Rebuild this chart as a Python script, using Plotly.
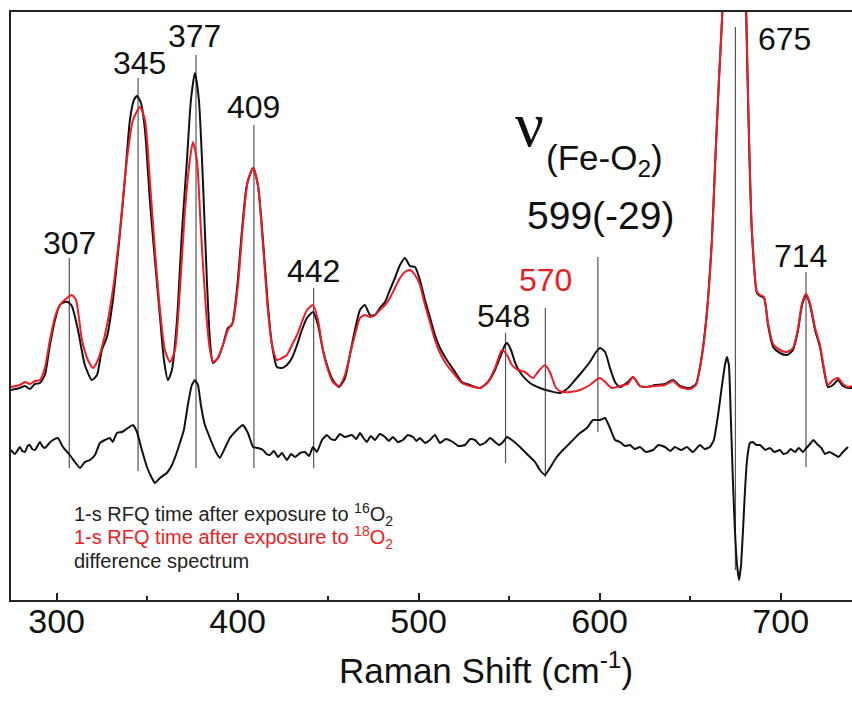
import plotly.graph_objects as go

# Raman shift (cm-1) / intensity (arb. units)
o16_x = [274.7,279.7,282.5,285.2,288.0,290.8,293.5,296.3,299.1,301.8,304.6,306.2,308.4,311.8,315.6,319.5,322.3,325.0,327.8,331.1,335.0,337.7,340.5,342.7,344.4,346.6,348.8,351.5,354.3,357.1,359.3,361.5,363.7,366.5,369.2,372.0,374.2,376.4,378.6,380.8,383.0,384.7,386.4,389.1,391.9,394.6,396.8,399.6,402.4,405.1,408.5,411.2,414.0,416.7,419.0,421.7,424.5,427.2,430.0,432.8,435.5,438.3,441.6,444.4,447.1,449.9,452.6,456.0,459.3,462.0,464.8,467.6,470.3,473.1,475.9,478.6,481.4,484.1,486.9,489.7,492.4,495.2,498.0,500.7,503.5,506.2,509.0,511.8,515.6,520.1,523.9,528.3,533.9,538.3,542.2,545.5,547.7,548.8,551.0,553.8,557.1,561.5,567.0,572.5,578.1,582.5,586.4,590.2,594.6,598.0,600.2,603.0,605.7,608.5,611.2,615.6,618.4,622.3,626.1,630.6,636.1,640.5,644.4,649.9,653.2,655.4,657.6,659.8,662.0,663.7,665.9,668.1,670.3,672.5,675.0,677.5,679.5,681.0,682.5,684.1,686.9,688.6,690.8,693.0,695.8,699.6,703.5,706.8,709.6,711.8,714.0,716.2,719.0,721.7,723.9,726.1,728.9,731.7,734.4,737.2,739.4]
o16_y = [210,212,214,211,216,217,225,255,280,295,298,298,294,270,235,220,225,250,263,300,367,420,480,500,504,497,470,400,340,283,240,220,230,280,367,440,500,527,500,420,320,260,237,242,255,272,275,310,370,415,432,415,360,295,255,233,232,235,242,255,270,282,288,275,250,232,220,213,222,245,270,290,295,285,285,292,298,310,322,335,342,334,333,320,300,283,265,252,240,228,218,215,212,218,230,245,255,257,250,235,225,217,212,209,207,212,220,228,238,248,252,248,232,218,213,218,223,214,213,215,216,220,214,212,216,233,260,300,360,433,520,600,720,880,980,880,720,580,460,367,307,304,302,275,253,247,245,250,270,295,305,295,270,253,230,213,215,220,214,212,212]

o18_x = [274.7,279.7,282.5,285.2,288.0,290.8,293.5,296.3,299.1,301.8,305.7,308.4,310.7,314.0,317.3,320.1,322.8,326.7,331.1,335.0,338.8,342.2,346.0,348.8,351.5,354.3,357.1,359.8,362.6,365.4,368.1,370.9,373.6,375.3,377.5,379.7,382.5,384.7,386.4,389.1,391.9,394.6,397.4,400.2,402.9,405.7,408.5,411.2,414.0,416.7,419.0,421.7,424.5,427.2,430.0,432.8,435.5,438.3,441.6,444.4,447.1,449.9,452.6,456.0,459.3,462.0,464.8,467.6,470.3,473.1,475.9,478.6,481.4,484.1,486.9,489.7,492.4,495.2,498.0,500.7,503.5,506.2,509.0,511.8,515.6,520.1,523.9,528.3,533.9,538.3,542.2,546.0,548.8,551.5,554.9,558.7,563.2,565.9,569.8,572.5,575.9,579.2,583.6,589.1,594.6,598.0,600.2,603.0,606.8,611.2,615.6,618.4,622.3,626.1,630.6,636.1,640.5,644.4,649.9,653.2,655.4,657.6,659.8,662.0,663.7,665.9,668.1,670.3,672.5,675.0,677.5,679.5,681.0,682.5,684.1,686.9,688.6,690.8,693.0,695.8,699.6,703.5,706.8,709.6,711.8,714.0,716.2,719.0,721.7,723.9,726.1,728.9,731.7,734.4,737.2,739.4]
o18_y = [213,215,218,216,219,220,232,260,283,295,302,305,300,260,240,232,240,265,310,370,440,480,493,480,420,350,290,250,238,250,310,390,440,458,440,370,290,250,238,242,255,270,278,315,375,420,432,415,355,290,255,240,242,245,255,265,278,290,295,280,250,230,218,214,225,245,265,282,285,283,285,290,295,302,312,322,328,330,325,315,295,278,260,247,235,225,217,214,212,218,232,250,245,235,230,228,222,228,235,228,212,208,208,210,215,220,222,218,212,214,216,223,214,213,214,215,219,213,211,215,232,258,298,358,432,520,600,720,880,980,880,720,585,465,370,308,305,303,277,256,250,248,252,272,297,306,297,272,255,232,215,220,222,216,213,214]

diff_x = [274.7,277.0,279.7,281.0,282.5,284.0,285.2,286.5,288.0,290.8,292.0,293.5,296.0,298.0,300.7,303.5,307.3,310.1,312.9,315.6,318.4,321.2,323.9,326.7,329.4,331.0,333.3,336.1,339.4,342.2,344.4,347.1,349.9,352.6,354.3,357.1,360.9,363.7,365.9,368.1,370.3,372.5,374.7,376.4,378.1,379.7,381.9,383.6,385.8,388.0,390.2,393.0,395.7,398.5,401.3,402.9,405.7,408.5,411.2,414.0,416.0,417.8,420.0,422.3,424.5,427.2,429.5,431.7,434.5,437.2,439.5,441.6,443.8,446.6,449.3,451.5,453.8,456.5,459.3,463.2,465.5,467.6,469.5,471.4,473.5,475.9,478.5,481.4,483.5,485.8,488.5,491.3,494.0,496.9,498.8,500.7,503.5,506.2,509.0,511.8,515.0,518.9,522.0,525.6,528.5,531.1,533.8,536.6,539.5,542.2,544.5,546.6,548.8,551.5,556.0,560.4,564.3,567.0,569.8,572.5,575.9,579.7,583.6,589.1,593.0,596.3,600.2,603.0,605.7,608.5,611.2,614.0,616.7,619.5,622.3,625.5,629.5,632.5,636.1,639.0,641.6,645.0,648.2,651.5,655.4,658.0,660.9,663.1,665.4,667.6,669.2,670.3,671.4,672.5,673.6,674.7,675.9,677.0,678.1,679.2,680.3,681.4,683.0,684.7,686.5,688.6,691.5,694.1,696.5,699.6,701.5,703.5,705.5,707.9,710.0,712.3,714.2,716.2,718.0,720.1,722.5,724.5,727.0,730.0,732.0,733.9,735.5,737.2,739.4]
diff_y = [150,146,153,149,148,154,155,151,150,158,154,152,157,160,162,153,145,138,132,138,140,145,157,160,162,158,167,168,172,175,168,150,133,122,117,122,127,135,145,157,170,195,215,220,215,195,175,167,157,148,142,152,162,168,173,175,167,153,152,150,146,145,149,143,147,140,146,143,147,148,144,153,148,160,165,161,160,166,163,165,161,167,162,158,164,160,166,163,159,163,158,160,165,163,159,162,157,160,165,157,161,158,154,155,161,160,155,157,162,158,155,158,163,160,153,145,138,130,125,132,142,150,157,167,172,180,180,182,172,160,158,154,155,151,153,148,150,155,153,149,153,150,153,148,155,151,153,160,185,215,235,243,235,180,120,70,35,20,35,70,110,140,157,158,155,155,150,152,148,150,146,147,151,148,152,148,152,156,160,156,152,146,148,145,143,147,150,153]

peak_pos = [307, 345, 377, 409, 442, 548, 570, 599, 675, 714]
peak_top = [342, 522, 545, 475, 312, 267, 292, 343, 573, 328]
peak_bottom = [132, 129, 132, 132, 132, 137, 123, 168, 30, 133]

label_text = ["307", "345", "377", "409", "442", "548", "570", "599(-29)", "675", "714"]
label_x = [307, 346, 376, 409, 442, 547, 570, 600.5, 686.5, 711]
label_y = [357, 537, 564, 493, 329, 284, 320, 385, 561, 344]
label_color = ["#111", "#111", "#111", "#111", "#111", "#111", "#ee1c24", "#111", "#111", "#111"]
label_size = [32, 32, 32, 32, 32, 32, 32, 39, 32, 32]

legend_lines = ["1-s RFQ time after exposure to <sup>16</sup>O<sub>2</sub>",
                "1-s RFQ time after exposure to <sup>18</sup>O<sub>2</sub>",
                "difference spectrum"]
legend_colors = ["#222", "#ee1c24", "#222"]
legend_y = [86, 63, 39]

x_ticks = [300, 400, 500, 600, 700]

BLACK = "#111111"
RED = "#ee1c24"
FONT = "Liberation Sans, Arial, sans-serif"

fig = go.Figure()

for px, top, bot in zip(peak_pos, peak_top, peak_bottom):
    fig.add_shape(type="line", x0=px, x1=px, y0=bot, y1=top, xref="x", yref="y",
                  line=dict(color="#555555", width=1.2), layer="below")

fig.add_trace(go.Scatter(x=o16_x, y=o16_y, mode="lines", name="16O2",
                         line=dict(color=BLACK, width=2, shape="spline", smoothing=0.6)))
fig.add_trace(go.Scatter(x=o18_x, y=o18_y, mode="lines", name="18O2",
                         line=dict(color=RED, width=2, shape="spline", smoothing=0.6)))
fig.add_trace(go.Scatter(x=diff_x, y=diff_y, mode="lines", name="difference",
                         line=dict(color=BLACK, width=2, shape="spline", smoothing=0.4)))

for t, x, y, c, s in zip(label_text, label_x, label_y, label_color, label_size):
    anchor = "left" if t == "675" else "center"
    fig.add_annotation(x=x, y=y, text=t, showarrow=False, xanchor=anchor, yanchor="middle",
                       font=dict(family=FONT, size=s, color=c))

fig.add_annotation(x=561.5, y=476, text="ν", showarrow=False, xanchor="center", yanchor="middle",
                   font=dict(family="Liberation Serif, Times New Roman, serif", size=64, color=BLACK))
fig.add_annotation(x=569.5, y=440, text="(Fe-O<sub>2</sub>)", showarrow=False, xanchor="left", yanchor="middle",
                   font=dict(family=FONT, size=35, color=BLACK))

for t, c, y in zip(legend_lines, legend_colors, legend_y):
    fig.add_annotation(x=308.4, y=y, text=t, showarrow=False, xanchor="left", yanchor="middle",
                       font=dict(family=FONT, size=20, color=c))

fig.add_annotation(xref="paper", yref="paper", x=0.565, y=-0.116, text="Raman Shift (cm<sup>-1</sup>)",
                   showarrow=False, xanchor="center", yanchor="middle",
                   font=dict(family=FONT, size=35, color=BLACK))

fig.update_layout(
    width=852, height=704,
    margin=dict(l=11, r=0, t=12, b=104),
    paper_bgcolor="white", plot_bgcolor="white",
    showlegend=False,
    hovermode=False,
    xaxis=dict(range=[274.8, 739.4], showgrid=False, zeroline=False,
               showline=True, linecolor="#222222", linewidth=2, mirror=True,
               ticks="inside", ticklen=7, tickwidth=2, tickcolor="#222222",
               tickvals=x_ticks, ticktext=[str(v) for v in x_ticks],
               ticklabelstandoff=-10,
               tickfont=dict(family=FONT, size=34, color=BLACK),
               minor=dict(tickvals=[350, 450, 550, 650], ticks="inside", ticklen=4,
                          tickwidth=1.5, tickcolor="#222222", showgrid=False)),
    yaxis=dict(range=[0, 588], showgrid=False, zeroline=False, showticklabels=False,
               showline=True, linecolor="#222222", linewidth=2, ticks=""),
)

# remove the default 8px page margin so the 852x704 figure fills the window exactly
fig.write_html("out.html", config={"displayModeBar": False},
               post_script="document.body.style.margin='0';document.body.style.overflow='hidden';")
